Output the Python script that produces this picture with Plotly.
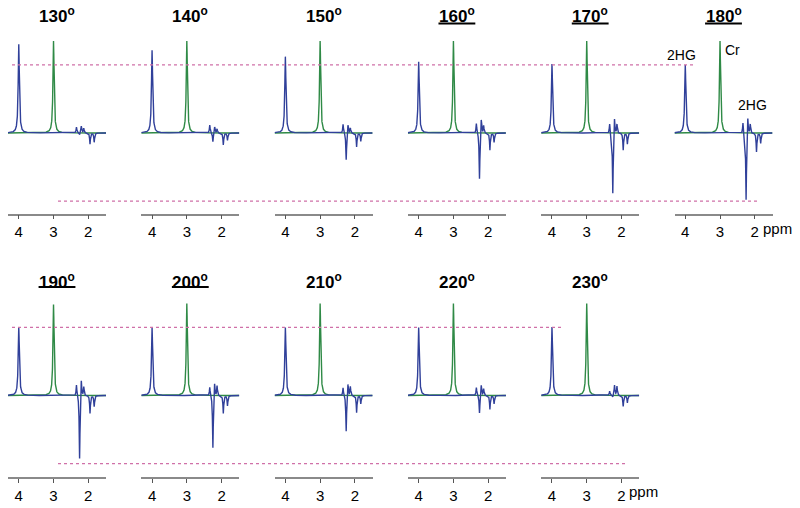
import numpy as np
import plotly.graph_objects as go

# ---------------- data ----------------
angles = ["130", "140", "150", "160", "170", "180", "190", "200", "210", "220", "230"]
underlined = ["160", "170", "180", "190", "200"]

# Creatine singlet (3.0 ppm), height relative units (Cr = 1)
cr_ppm = 3.0
cr_height = [1.0, 1.0, 1.0, 1.0, 1.0, 1.0, 0.99, 1.0, 1.0, 1.0, 1.0]

# 2HG singlet-like peak at 4.0 ppm
hg4_ppm = 4.0
hg4_height = [0.965, 0.90, 0.83, 0.775, 0.75, 0.74, 0.745, 0.74, 0.74, 0.74, 0.745]

# 2HG multiplet components (ppm) and signed amplitudes per panel
mult_ppm = [2.34, 2.25, 2.20, 2.13, 1.95, 1.83]
mult_amp = {
    "130": [0.065, -0.02, 0.075, 0.05, -0.12, -0.10],
    "140": [0.087, -0.10, 0.070, 0.045, -0.13, -0.08],
    "150": [0.10, -0.30, 0.10, 0.055, -0.15, -0.09],
    "160": [0.11, -0.51, 0.17, 0.085, -0.185, -0.10],
    "170": [0.11, -0.67, 0.19, 0.10, -0.185, -0.12],
    "180": [0.12, -0.74, 0.20, 0.10, -0.205, -0.11],
    "190": [0.125, -0.70, 0.20, 0.10, -0.195, -0.12],
    "200": [0.10, -0.58, 0.16, 0.11, -0.195, -0.11],
    "210": [0.09, -0.40, 0.14, 0.10, -0.185, -0.09],
    "220": [0.09, -0.20, 0.12, 0.075, -0.15, -0.09],
    "230": [0.045, -0.02, 0.11, 0.10, -0.12, -0.08],
}

tick_vals = [4, 3, 2]
tick_text = ["4", "3", "2"]

# ---------------- styling / geometry ----------------
W, H = 800, 508
BLUE = "#30409a"
GREEN = "#2f8a46"
PINK = "#d070a8"
FONT = "Liberation Sans, Arial, sans-serif"
XR = [4.31, 1.49]
ppm = np.linspace(4.31, 1.49, 1411)
W_MAIN = 0.02
W_MULT = 0.013


def lor(x, p, a, w):
    return a / (1.0 + ((x - p) / w) ** 2)


col_left = [8 + 133.3 * i for i in range(6)]
panel_w = 98

rows = {
    "y": dict(axis_px=213.5, base_px=133.0, top_px=30.0, title_px=15.0, ul_px=23.5),
    "y2": dict(axis_px=477.0, base_px=395.5, top_px=292.0, title_px=281.0, ul_px=287.0),
}
SCALE = 92.0

fig = go.Figure()
layout = dict(
    width=W, height=H, margin=dict(l=0, r=0, t=0, b=0),
    paper_bgcolor="white", plot_bgcolor="white", showlegend=False,
    font=dict(family=FONT, color="black"),
)
annotations = []
shapes = []

for yk, r in rows.items():
    key = "yaxis" if yk == "y" else "yaxis2"
    layout[key] = dict(
        domain=[1 - r["axis_px"] / H, 1 - r["top_px"] / H],
        range=[-(r["axis_px"] - r["base_px"]) / SCALE, (r["base_px"] - r["top_px"]) / SCALE],
        showline=False, showgrid=False, zeroline=False, showticklabels=False,
        ticks="", anchor="free", position=0,
    )

for i, ang in enumerate(angles):
    row = "y" if i < 6 else "y2"
    col = i if i < 6 else i - 6
    xname = "x" if i == 0 else f"x{i + 1}"
    xkey = "xaxis" if i == 0 else f"xaxis{i + 1}"
    left = col_left[col]
    layout[xkey] = dict(
        domain=[left / W, (left + panel_w) / W], range=XR, anchor=row,
        showline=True, linecolor="#8a8a8a", linewidth=1.5,
        ticks="outside", ticklen=4, tickwidth=1, tickcolor="#555555",
        tickvals=tick_vals, ticktext=tick_text,
        tickfont=dict(size=15, family=FONT, color="black"),
        showgrid=False, zeroline=False, fixedrange=True,
    )
    green = lor(ppm, cr_ppm, cr_height[i], W_MAIN)
    blue = lor(ppm, hg4_ppm, hg4_height[i], W_MAIN)
    for p, a in zip(mult_ppm, mult_amp[ang]):
        blue = blue + lor(ppm, p, a, W_MULT)
    fig.add_trace(go.Scatter(x=ppm, y=green, mode="lines", xaxis=xname, yaxis=row,
                             line=dict(color=GREEN, width=1.4), hoverinfo="skip"))
    fig.add_trace(go.Scatter(x=ppm, y=blue, mode="lines", xaxis=xname, yaxis=row,
                             line=dict(color=BLUE, width=1.4), hoverinfo="skip"))
    r = rows[row]
    annotations.append(dict(
        text=f"<b>{ang}<sup>o</sup></b>", xref=xname, yref="paper",
        x=2.9, y=1 - r["title_px"] / H, xanchor="center", yanchor="middle",
        showarrow=False, font=dict(size=17, family=FONT, color="black"),
    ))
    if ang in underlined:
        shapes.append(dict(type="line", xref=xname, yref="paper",
                           x0=2.9 + 0.53, x1=2.9 - 0.53,
                           y0=1 - r["ul_px"] / H, y1=1 - r["ul_px"] / H,
                           line=dict(color="black", width=2)))
    if ang in ("180", "230"):
        annotations.append(dict(
            text="ppm", xref=xname, yref="paper", x=2.0, xshift=6,
            y=1 - (r["axis_px"] + 14.7) / H, xanchor="left", yanchor="middle",
            showarrow=False, font=dict(size=15, family=FONT, color="black"),
        ))

# peak labels in 180 panel
i180 = angles.index("180")
x180 = f"x{i180 + 1}"
annotations += [
    dict(text="2HG", xref=x180, yref="y", x=4.12, y=0.85, xanchor="center", yanchor="middle",
         showarrow=False, font=dict(size=14, family=FONT, color="black")),
    dict(text="Cr", xref=x180, yref="y", x=2.92, y=0.90, xanchor="left", yanchor="middle",
         showarrow=False, font=dict(size=14, family=FONT, color="black")),
    dict(text="2HG", xref=x180, yref="y", x=2.08, y=0.30, xanchor="center", yanchor="middle",
         showarrow=False, font=dict(size=14, family=FONT, color="black")),
]

# dotted reference lines at the 180-degree 2HG peak height / trough depth
ref_up = hg4_height[i180]
ref_dn = min(mult_amp["180"])
for yref, up_x, dn_x in (("y", (12, 693), (58, 760)), ("y2", (12, 562), (58, 625))):
    shapes.append(dict(type="line", xref="paper", yref=yref, x0=up_x[0] / W, x1=up_x[1] / W,
                       y0=ref_up, y1=ref_up, line=dict(color=PINK, width=1.2, dash="dot")))
    shapes.append(dict(type="line", xref="paper", yref=yref, x0=dn_x[0] / W, x1=dn_x[1] / W,
                       y0=ref_dn, y1=ref_dn, line=dict(color=PINK, width=1.2, dash="dot")))

layout["annotations"] = annotations
layout["shapes"] = shapes
fig.update_layout(**layout)
fig.write_html("out.html", config={"displayModeBar": False},
               post_script="document.body.style.margin='0';document.body.style.padding='0';")
